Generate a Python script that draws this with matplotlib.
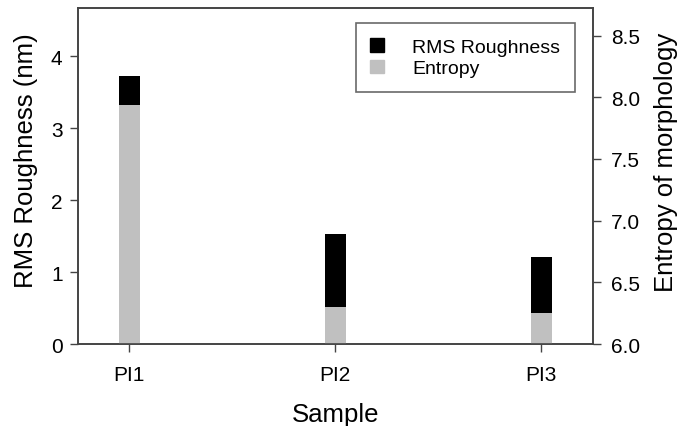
import matplotlib
matplotlib.use("Agg")
import matplotlib.pyplot as plt
from matplotlib.patches import Patch

samples = ["PI1", "PI2", "PI3"]
rms_roughness = [3.73, 1.53, 1.21]   # nm, left axis
entropy = [7.94, 6.30, 6.25]         # right axis

plt.rcParams["font.family"] = ["Liberation Sans", "DejaVu Sans"]

fig = plt.figure(figsize=(6.83, 4.27), dpi=100)
ax = fig.add_axes([0.114, 0.192, 0.754, 0.786])
ax2 = ax.twinx()

x = range(1, len(samples) + 1)
width = 0.1
ax.bar(x, rms_roughness, width=width, color="black", zorder=2)
ax2.bar(x, [e - 6.0 for e in entropy], bottom=6.0, width=width,
        color="#c0c0c0", zorder=2)

ax.set_xlim(0.75, 3.25)
ax.set_ylim(0, 4.665)
ax2.set_ylim(6.0, 8.72)
ax.set_xticks(list(x))
ax.set_xticklabels(samples)
ax.set_yticks([0, 1, 2, 3, 4])
ticks_r = [6.0, 6.5, 7.0, 7.5, 8.0, 8.5]
ax2.set_yticks(ticks_r)
ax2.set_yticklabels([f"{v:.1f}" for v in ticks_r])

for a in (ax, ax2):
    a.tick_params(direction="out", length=6, width=1, labelsize=15,
                  color="#444444", pad=5)
    for s in a.spines.values():
        s.set_color("#444444")
        s.set_linewidth(1.2)
ax.tick_params(axis="x", pad=9)
ax2.tick_params(axis="y", pad=7)

ax.set_xlabel("Sample", fontsize=18.5, labelpad=13)
ax.set_ylabel("RMS Roughness (nm)", fontsize=18.5, labelpad=9)
ax2.set_ylabel("Entropy of morphology", fontsize=18.5, labelpad=10)
# labels in the original sit a bit above the axes centre
ax.yaxis.label.set_y(0.548)
ax2.yaxis.label.set_y(0.545)

handles = [Patch(facecolor="black", edgecolor="black"),
           Patch(facecolor="#c0c0c0", edgecolor="#c0c0c0")]
leg = ax2.legend(handles, ["RMS Roughness", "Entropy"], loc="upper right",
                 bbox_to_anchor=(0.965, 0.955), borderaxespad=0,
                 fontsize=14, frameon=True, fancybox=False,
                 handlelength=0.7, handleheight=0.7, handletextpad=1.45,
                 labelspacing=0.2, borderpad=0.75)
leg.get_frame().set_edgecolor("#444444")
leg.get_frame().set_linewidth(1.2)

fig.savefig("out.png", dpi=100)
